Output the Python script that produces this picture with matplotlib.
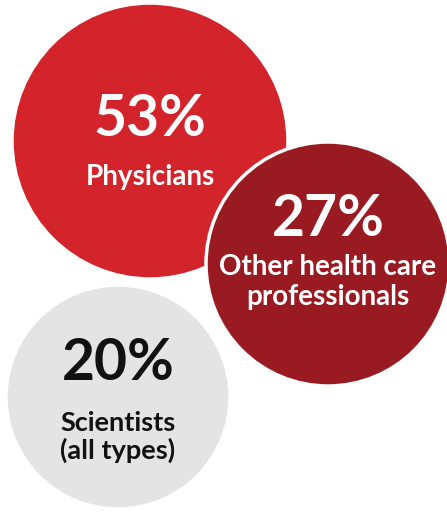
import matplotlib
matplotlib.use("Agg")
import matplotlib.pyplot as plt
from matplotlib.patches import Circle

# Data
shares = [53, 27, 20]
labels = ["Physicians", "Other health care\nprofessionals", "Scientists\n(all types)"]

# Layout (pixel coordinates in a 447x514 canvas) and styling
centers = [(150, 141), (328, 264), (118, 397)]
radii = [138, 122, 112]
fill_colors = ["#D3242B", "#9A1A22", "#E4E4E4"]
text_colors = ["white", "white", "#111111"]
pct_offsets = [-21, -45, -33]
label_offsets = [36, 18, 40]
label_sizes = [20, 20, 19.5]
draw_order = [2, 0, 1]

W, H = 447, 514
fig = plt.figure(figsize=(W / 100, H / 100), dpi=100)
ax = fig.add_axes([0, 0, 1, 1])
ax.set_xlim(0, W)
ax.set_ylim(H, 0)
ax.set_aspect("equal")
ax.axis("off")

for z, i in enumerate(draw_order):
    cx, cy = centers[i]
    ax.add_patch(Circle((cx, cy), radii[i], facecolor=fill_colors[i],
                        edgecolor="white", linewidth=2.5, zorder=z + 1))

for i in range(len(shares)):
    cx, cy = centers[i]
    ax.text(cx, cy + pct_offsets[i], f"{shares[i]}%", ha="center", va="center",
            fontsize=41, fontweight="bold", family="Lato",
            color=text_colors[i], zorder=10)
    ax.text(cx, cy + label_offsets[i], labels[i], ha="center", va="center",
            fontsize=label_sizes[i], fontweight="bold", family="Lato",
            color=text_colors[i], linespacing=1.15, zorder=10)

fig.savefig("out.png", dpi=100, facecolor="white")
